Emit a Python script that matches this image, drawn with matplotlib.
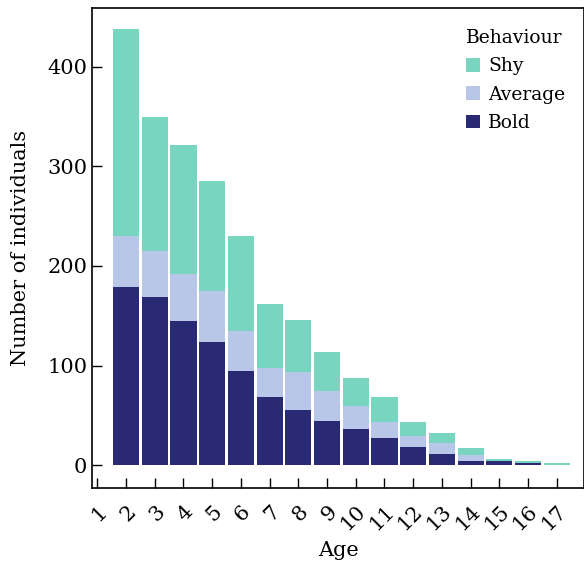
import matplotlib
matplotlib.use('Agg')
import matplotlib.pyplot as plt
import numpy as np

plt.rcParams['font.family'] = 'DejaVu Serif'

ages = [2, 3, 4, 5, 6, 7, 8, 9, 10, 11, 12, 13, 14, 15, 16, 17]
bold = [179, 169, 145, 124, 94, 68, 55, 44, 36, 27, 18, 11, 4, 4, 2.5, 0]
average = [51, 46, 47, 51, 41, 30, 38, 30, 23, 16, 11, 11, 6, 0.5, 0, 0.5]
shy = [208, 135, 129, 110, 95, 64, 53, 40, 28, 25, 14, 10, 7, 2, 1.5, 2]
tick_ages = list(range(1, 18))

c_shy = '#77d5c0'
c_avg = '#b8c6e8'
c_bold = '#2a2a74'

fig = plt.figure(figsize=(5.84, 5.64), dpi=100)
ax = fig.add_axes([92/584, 76/564, 492/584, 480/564])

b = np.array(bold)
a = np.array(average)
s = np.array(shy)
w = 0.91
ax.bar(ages, b, width=w, color=c_bold, label='Bold')
ax.bar(ages, a, bottom=b, width=w, color=c_avg, label='Average')
ax.bar(ages, s, bottom=b + a, width=w, color=c_shy, label='Shy')

ax.set_xlim(0.815, 17.95)
ax.set_ylim(-23, 459)
ax.set_yticks([0, 100, 200, 300, 400])
ax.set_xticks(tick_ages)
ax.set_xticklabels([str(t) for t in tick_ages], rotation=45, ha='right',
                   rotation_mode='anchor')
ax.tick_params(direction='in', length=7, labelsize=15, width=1)
ax.tick_params(axis='x', pad=10)
for sp in ax.spines.values():
    sp.set_linewidth(1.2)

ax.set_xlabel('Age', fontsize=15, labelpad=5)
ax.set_ylabel('Number of individuals', fontsize=15, labelpad=12)

h, l = ax.get_legend_handles_labels()
leg = ax.legend(h[::-1], l[::-1], title='Behaviour', frameon=False,
                loc='upper right', fontsize=13.5, title_fontsize=13.5,
                handlelength=0.75, handleheight=0.75, handletextpad=0.45,
                labelspacing=0.55, borderaxespad=0.6,
                bbox_to_anchor=(1.0, 0.995))
leg._legend_box.align = 'left'

fig.savefig('out.png', dpi=100)
